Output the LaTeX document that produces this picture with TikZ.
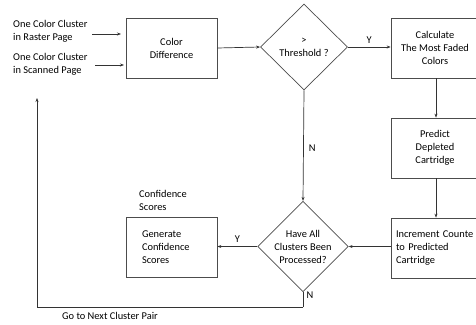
\documentclass[tikz,border=0pt]{standalone}
\usepackage{fontspec}
\setmainfont{Carlito}
\usetikzlibrary{shapes.geometric,arrows.meta,calc}
\begin{document}
\begin{tikzpicture}[x=1pt,y=-1pt,
  font=\fontsize{10.4}{13}\selectfont,
  every node/.style={text=black},
  box/.style={draw=black!70,line width=0.7pt,rectangle,minimum width=91pt,minimum height=60pt,inner sep=0pt,align=center},
  rbox/.style={draw=black!70,line width=0.7pt,rectangle,minimum width=88pt,minimum height=60pt,inner sep=0pt,align=center},
  dec/.style={draw=black!70,line width=0.7pt,diamond,minimum width=87pt,minimum height=86pt,inner sep=0pt,align=center},
  arr/.style={draw=black!80,line width=0.7pt,-{Stealth[length=4pt,width=3pt]}},
  ln/.style={draw=black!80,line width=0.7pt},
  lbl/.style={inner sep=0pt,align=left}]
\clip (0,0) rectangle (476,324);
\useasboundingbox (0,0) rectangle (476,324);

\node[lbl,anchor=west] (r1) at (13,31.5) {One Color Cluster\\in Raster Page};
\node[lbl,anchor=west] (r2) at (13,64.5) {One Color Cluster\\in Scanned Page};

\node[box] (cd) at (171.5,48) {Color\\Difference};
\node[dec] (th) at (304,47) {>\\Threshold ?};
\node[rbox] (calc) at (435,48) {Calculate\\The Most Faded\\Colors};
\node[rbox] (pred) at (435,148) {Predict\\Depleted\\Cartridge};
\node[rbox,align=left,text width=78pt,inner xsep=5pt] (inc) at (435,248) {Increment Counte\\to Predicted\\Cartridge};
\node[dec,minimum width=88pt] (ha) at (303,246.5) {Have All\\Clusters Been\\Processed?};
\node[box,align=left,text width=59pt,inner xsep=16pt] (gen) at (171.5,247.5) {Generate\\Confidence\\Scores};

\node[lbl,anchor=west] (cs) at (139,200) {Confidence\\Scores};
\node[inner sep=0pt] (go) at (110,316) {Go to Next Cluster Pair};

\coordinate (a1s) at (92,34);
\coordinate (a1e) at (121,34);
\coordinate (a2s) at (95,65);
\coordinate (a2e) at (124,65);
\draw[arr] (a1s) -- (a1e);
\draw[arr] (a2s) -- (a2e);

\draw[arr] (cd.east) -- (th.west);
\draw[arr] (th.east) -- (th.east -| calc.west) node[midway,above=3pt,inner sep=0pt] (y1) {Y};
\draw[arr] (calc.south -| 436,0) -- (pred.north -| 436,0);
\draw[arr] (pred.south -| 436,0) -- (inc.north -| 436,0);
\draw[arr] (th.south) -- (ha.north) node[pos=0.52,right=5pt,inner sep=0pt] (n1) {N};
\draw[arr] (inc.west |- ha.east) -- (ha.east);
\draw[arr] (ha.west) -- (gen.east |- ha.west) node[midway,above=4pt,inner sep=0pt] (y2) {Y};

\coordinate (lb) at (303,307);
\coordinate (ll) at (37,307);
\coordinate (ret) at (37,98);
\draw[ln] (ha.south) -- (lb);
\draw[arr] (lb) -- (ll) -- (ret);
\node[inner sep=0pt] (n2) at (310,295.5) {N};
\end{tikzpicture}
\end{document}
